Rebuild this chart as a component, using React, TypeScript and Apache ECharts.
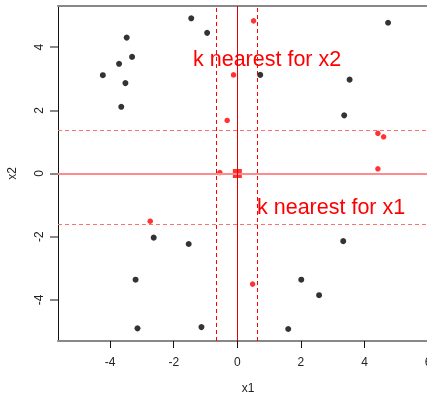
import React, { useEffect, useRef } from "react";
import * as echarts from "echarts";

const blackPoints: [number, number][] = [
  [-1.45, 4.91], [-0.95, 4.45], [-3.48, 4.3], [-3.31, 3.69], [-3.72, 3.47],
  [-4.23, 3.11], [-3.52, 2.86], [-3.65, 2.11], [4.74, 4.77], [0.72, 3.12],
  [3.53, 2.97], [3.36, 1.84], [-2.63, -2.03], [-1.53, -2.23], [-3.2, -3.36],
  [-3.14, -4.9], [-1.13, -4.86], [3.33, -2.14], [2.01, -3.36], [2.57, -3.85],
  [1.6, -4.92],
];
const redPoints: [number, number][] = [
  [0.51, 4.83], [-0.12, 3.12], [-0.32, 1.68], [4.42, 1.27], [4.6, 1.16],
  [-0.55, 0.03], [4.42, 0.15], [-2.74, -1.51], [0.48, -3.5],
];
const queryPoint: [number, number][] = [[0, 0]];
const x1Bounds = [-0.67, 0.62];
const x2Bounds = [1.38, -1.59];
const xTicks = [-4, -2, 0, 2, 4, 6];
const yTicks = [-4, -2, 0, 2, 4];
const labelX2 = "k nearest for x2";
const labelX1 = "k nearest for x1";

export default function App() {
  const ref = useRef<HTMLDivElement>(null);
  useEffect(() => {
    const chart = echarts.init(ref.current!, null, { renderer: "svg" });
    const font = "Liberation Sans, Arial, sans-serif";
    chart.setOption({
      animation: false,
      grid: { left: 58, top: 6, width: 380, height: 335, outerBoundsMode: "none", containLabel: false },
      xAxis: [
        {
          type: "value",
          min: -5.64,
          max: 6.31,
          name: "x1",
          nameLocation: "middle",
          nameGap: 41,
          nameTextStyle: { fontFamily: font, fontSize: 12, color: "#222" },
          axisLine: { show: true, onZero: false, lineStyle: { color: "#888", width: 2 } },
          axisTick: { show: true, length: 7, customValues: xTicks, lineStyle: { color: "#111", width: 1 } },
          axisLabel: { customValues: xTicks, margin: 15, fontFamily: font, fontSize: 12, color: "#222" },
          splitLine: { show: false },
        },
        {
          type: "value",
          position: "top",
          min: -5.64,
          max: 6.31,
          axisLine: { show: true, onZero: false, lineStyle: { color: "#888", width: 2 } },
          axisTick: { show: false },
          axisLabel: { show: false },
          splitLine: { show: false },
        },
      ],
      yAxis: {
        type: "value",
        min: -5.3,
        max: 5.3,
        name: "x2",
        nameLocation: "middle",
        nameGap: 40,
        nameRotate: 90,
        nameTextStyle: { fontFamily: font, fontSize: 12, color: "#222" },
        axisLine: { show: true, onZero: false, lineStyle: { color: "#111", width: 1 } },
        axisTick: { show: true, length: 8, customValues: yTicks, lineStyle: { color: "#888", width: 2 } },
        axisLabel: { customValues: yTicks, rotate: 90, margin: 13, fontFamily: font, fontSize: 12, color: "#222" },
        splitLine: { show: false },
      },
      series: [
        {
          type: "scatter",
          data: blackPoints,
          symbol: "circle",
          symbolSize: 6,
          itemStyle: { color: "#000" },
          markLine: {
            silent: true,
            symbol: "none",
            label: { show: false },
            data: [
              { xAxis: x1Bounds[0], lineStyle: { color: "#ff0000", type: [4, 3], width: 1 } },
              { xAxis: x1Bounds[1], lineStyle: { color: "#ff0000", type: [4, 3], width: 1 } },
              { yAxis: x2Bounds[0], lineStyle: { color: "#ff7070", type: [4, 3], width: 1 } },
              { yAxis: x2Bounds[1], lineStyle: { color: "#ff7070", type: [4, 3], width: 1 } },
              { yAxis: 0, lineStyle: { color: "#ff8c8c", type: "solid", width: 2 } },
              { xAxis: 0, lineStyle: { color: "#e00000", type: "solid", width: 1 } },
            ],
          },
        },
        {
          type: "scatter",
          data: redPoints,
          symbol: "circle",
          symbolSize: 5.5,
          itemStyle: { color: "#ff0000" },
        },
        {
          type: "scatter",
          data: queryPoint,
          symbol: "rect",
          symbolSize: 9,
          itemStyle: { color: "#ff0000" },
        },
      ],
      graphic: [
        {
          type: "text",
          x: 193,
          y: 58.5,
          style: { text: labelX2, fill: "#ff0000", font: `21.5px ${font}`, verticalAlign: "middle" },
        },
        {
          type: "text",
          x: 257,
          y: 206.5,
          style: { text: labelX1, fill: "#ff0000", font: `21.5px ${font}`, verticalAlign: "middle" },
        },
      ],
    });
    return () => chart.dispose();
  }, []);
  return (
    <div style={{ position: "fixed", left: 0, top: 0, width: 427, height: 394, overflow: "hidden" }}>
      <div ref={ref} style={{ width: 427, height: 394 }} />
    </div>
  );
}
